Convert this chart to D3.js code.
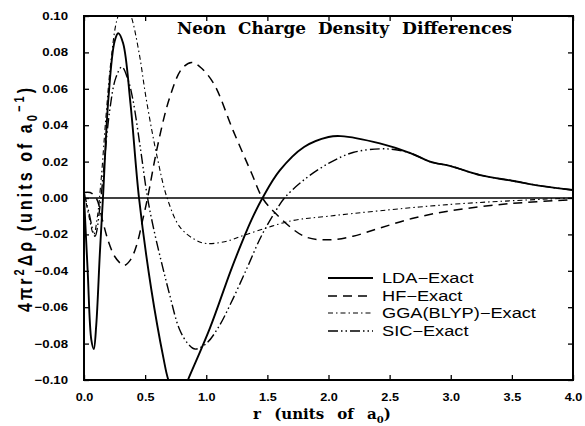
<!DOCTYPE html>
<html><head><meta charset="utf-8">
<script src="https://cdn.jsdelivr.net/npm/d3@7"></script>
<style>body{margin:0;background:#fff}</style>
</head><body><svg id="c" width="585" height="426"></svg>
<script>
// ---- data ----
const ldaR = [0,0.03,0.06,0.08,0.10,0.13,0.155,0.2,0.25,0.28,0.32,0.38,0.45,0.55,0.65,0.69,0.77,0.85,1.03,1.2,1.3,1.37,1.46,1.6,1.8,2.0,2.1,2.42,2.67,2.83,3.0,3.24,3.5,3.75,4.0];
const ldaV = [0.001,-0.04,-0.078,-0.083,-0.07,-0.03,0,0.055,0.086,0.0905,0.085,0.052,0,-0.05,-0.088,-0.1,-0.113,-0.1,-0.0715,-0.04,-0.023,-0.012,0,0.015,0.028,0.0335,0.034,0.030,0.0247,0.020,0.0175,0.0126,0.0095,0.0065,0.0044];
const hfR = [0,0.05,0.1,0.15,0.2,0.25,0.3,0.33,0.38,0.43,0.48,0.52,0.6,0.7,0.8,0.88,0.95,1.06,1.22,1.37,1.46,1.56,1.8,2.0,2.2,2.42,2.7,3.0,3.5,4.0];
const hfV = [0.003,0.003,0,-0.012,-0.024,-0.032,-0.036,-0.037,-0.034,-0.026,-0.012,0,0.028,0.055,0.071,0.0745,0.072,0.063,0.037,0.0137,0,-0.008,-0.021,-0.023,-0.021,-0.0165,-0.011,-0.007,-0.003,-0.001];
const ggaR = [0,0.04,0.08,0.11,0.14,0.18,0.22,0.27,0.33,0.385,0.45,0.51,0.6,0.68,0.785,0.91,1.0,1.15,1.33,1.7,2.0,2.42,3.0,3.5,4.0];
const ggaV = [0.004,-0.01,-0.02,-0.01,0.01,0.045,0.075,0.098,0.108,0.10,0.08,0.054,0.022,0,-0.016,-0.023,-0.025,-0.024,-0.020,-0.0125,-0.010,-0.007,-0.0035,-0.0015,0];
const sicR = [0,0.04,0.09,0.13,0.16,0.21,0.26,0.31,0.36,0.40,0.46,0.52,0.58,0.64,0.7,0.78,0.85,0.91,1.0,1.1,1.2,1.33,1.45,1.56,1.64,1.8,2.0,2.2,2.42,2.55,2.67,2.83,3.0,3.24,3.5,3.75,4.0];
const sicV = [0.003,-0.008,-0.021,-0.005,0.015,0.048,0.066,0.072,0.065,0.054,0.028,0,-0.02,-0.037,-0.053,-0.072,-0.080,-0.083,-0.080,-0.071,-0.058,-0.039,-0.021,-0.008,0,0.010,0.019,0.025,0.027,0.0265,0.0247,0.020,0.0175,0.0126,0.0095,0.0065,0.0044];
const seriesNames = ["LDA\u2212Exact","HF\u2212Exact","GGA(BLYP)\u2212Exact","SIC\u2212Exact"];
const xTicks = [0,0.5,1.0,1.5,2.0,2.5,3.0,3.5,4.0];
const yTicks = [-0.10,-0.08,-0.06,-0.04,-0.02,0.00,0.02,0.04,0.06,0.08,0.10];
const titleWords = ["Neon","Charge","Density","Differences"];

// ---- layout ----
const svg = d3.select("#c");
const L=84, T=16, R=573, B=380;
const x = d3.scaleLinear().domain([0,4]).range([L,R]);
const y = d3.scaleLinear().domain([-0.10,0.10]).range([B,T]);
const sans = "'Liberation Sans', Arial, Helvetica, sans-serif";
const serif = "'DejaVu Serif', 'Liberation Serif', serif";

function stretch(sel, k){
  sel.each(function(){
    const l = this.getComputedTextLength();
    d3.select(this).attr("textLength", l*k).attr("lengthAdjust","spacingAndGlyphs");
  });
}

svg.append("defs").append("clipPath").attr("id","clip")
  .append("rect").attr("x",L).attr("y",T).attr("width",R-L).attr("height",B-T);

// axes
const gL = svg.append("g").attr("transform",`translate(${L},0)`)
  .call(d3.axisLeft(y).tickValues(yTicks).tickSize(-5).tickPadding(16).tickFormat(d=>d3.format(".2f")(d).replace("-","\u2212")));
const gB = svg.append("g").attr("transform",`translate(0,${B})`)
  .call(d3.axisBottom(x).tickValues(xTicks).tickSize(-5).tickPadding(13).tickFormat(d3.format(".1f")));
const gR = svg.append("g").attr("transform",`translate(${R},0)`)
  .call(d3.axisRight(y).tickValues(yTicks).tickSize(-5).tickFormat(""));
const gT = svg.append("g").attr("transform",`translate(0,${T})`)
  .call(d3.axisTop(x).tickValues(xTicks).tickSize(-5).tickFormat(""));
[gL,gB,gR,gT].forEach(g=>{
  g.select(".domain").remove();
  g.selectAll(".tick line").attr("stroke","#000").attr("stroke-width",1.3);
  g.selectAll("text").style("font",`bold 11px ${sans}`).attr("fill","#000");
});
stretch(gL.selectAll("text"),1.2);
stretch(gB.selectAll("text"),1.15);

// zero line
svg.append("line").attr("x1",L).attr("x2",R).attr("y1",y(0)).attr("y2",y(0))
  .attr("stroke","#000").attr("stroke-width",1.5);

// curves
const styles = [
  {w:1.9, dash:null},
  {w:1.5, dash:"9,6"},
  {w:1.1, dash:"5,3,1.5,3"},
  {w:1.4, dash:"10,3,1.5,3,1.5,3"}
];
const data = [[ldaR,ldaV],[hfR,hfV],[ggaR,ggaV],[sicR,sicV]];
const line = d3.line().x(d=>x(d[0])).y(d=>y(d[1])).curve(d3.curveCatmullRom.alpha(0.5));
const gC = svg.append("g").attr("clip-path","url(#clip)");
data.forEach((s,i)=>{
  const pts = s[0].map((r,j)=>[r,s[1][j]]);
  gC.append("path").datum(pts).attr("d",line).attr("fill","none")
    .attr("stroke","#000").attr("stroke-width",styles[i].w)
    .attr("stroke-dasharray",styles[i].dash);
});

// frame
svg.append("rect").attr("x",L).attr("y",T).attr("width",R-L).attr("height",B-T)
  .attr("fill","none").attr("stroke","#000").attr("stroke-width",2);

// legend
const legY = [278,296,313,331];
seriesNames.forEach((n,i)=>{
  svg.append("line").attr("x1",328).attr("x2",373).attr("y1",legY[i]).attr("y2",legY[i])
    .attr("stroke","#000").attr("stroke-width",styles[i].w).attr("stroke-dasharray",styles[i].dash);
  const t = svg.append("text").attr("x",382).attr("y",legY[i]+5).text(n)
    .style("font",`14px ${sans}`).attr("fill","#000");
  stretch(t,1.3);
});

// title
const titleX = [177,238,318,402], titleW = [49,68,71,110];
titleWords.forEach((w,i)=>{
  svg.append("text").attr("x",titleX[i]).attr("y",34).text(w)
    .attr("textLength",titleW[i]).attr("lengthAdjust","spacingAndGlyphs")
    .style("font",`bold 16px ${serif}`).attr("fill","#000");
});

// x label
const xl = svg.append("text").attr("x",253).attr("y",419)
  .style("font",`bold 15px ${serif}`).style("word-spacing","8px").attr("fill","#000");
xl.append("tspan").text("r (units of a");
xl.append("tspan").attr("dy",4).style("font-size","10px").text("0");
xl.append("tspan").attr("dy",-4).text(")");

// y label
const yl = svg.append("text").attr("transform","translate(32,312) rotate(-90) scale(1,1.3)")
  .attr("textLength",224).attr("lengthAdjust","spacing")
  .style("font",`bold 16px ${sans}`).attr("fill","#000");
yl.append("tspan").text("4\u03c0r");
yl.append("tspan").attr("dy",-6).style("font-size","11px").text("2");
yl.append("tspan").attr("dy",6).text("\u0394\u03c1 (units of a");
yl.append("tspan").attr("dy",4).style("font-size","11px").text("0");
yl.append("tspan").attr("dy",-10).style("font-size","11px").text("\u22121");
yl.append("tspan").attr("dy",6).text(")");
</script></body></html>
